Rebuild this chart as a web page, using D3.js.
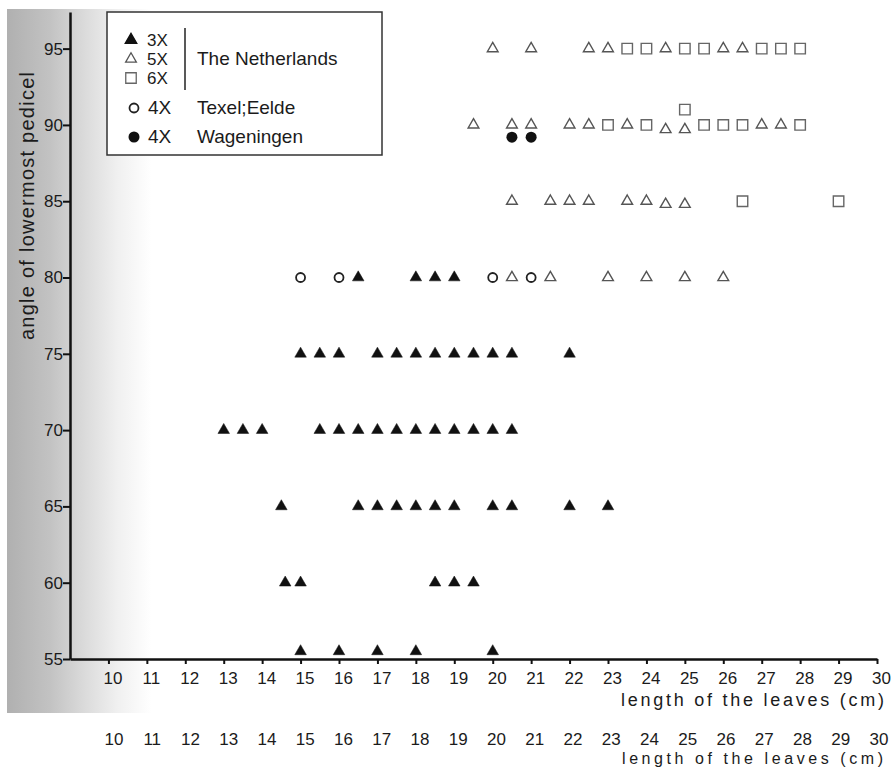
<!DOCTYPE html>
<html>
<head>
<meta charset="utf-8">
<script src="https://cdn.jsdelivr.net/npm/d3@7"></script>
<style>
  body { margin: 0; background: #fff; }
  text { font-family: "Liberation Sans", Arial, sans-serif; fill: #1b1b1b; }
</style>
</head>
<body>
<div id="chart"></div>
<script>
// Data: [length of leaves (cm), angle of lowermost pedicel]
var tri3x = [
  [16.5, 80], [18, 80], [18.5, 80], [19, 80],
  [15, 75], [15.5, 75], [16, 75], [17, 75], [17.5, 75], [18, 75], [18.5, 75], [19, 75], [19.5, 75], [20, 75], [20.5, 75], [22, 75],
  [13, 70], [13.5, 70], [14, 70], [15.5, 70], [16, 70], [16.5, 70], [17, 70], [17.5, 70], [18, 70], [18.5, 70], [19, 70], [19.5, 70], [20, 70], [20.5, 70],
  [14.5, 65], [16.5, 65], [17, 65], [17.5, 65], [18, 65], [18.5, 65], [19, 65], [20, 65], [20.5, 65], [22, 65], [23, 65],
  [14.6, 60], [15, 60], [18.5, 60], [19, 60], [19.5, 60],
  [15, 55.5], [16, 55.5], [17, 55.5], [18, 55.5], [20, 55.5]
];
var tri5x = [
  [20, 95], [21, 95], [22.5, 95], [23, 95], [24.5, 95], [26, 95], [26.5, 95],
  [19.5, 90], [20.5, 90], [21, 90], [22, 90], [22.5, 90], [23.5, 90], [24.5, 89.7], [25, 89.7], [27, 90], [27.5, 90],
  [20.5, 85], [21.5, 85], [22, 85], [22.5, 85], [23.5, 85], [24, 85], [24.5, 84.8], [25, 84.8],
  [20.5, 80], [21.5, 80], [23, 80], [24, 80], [25, 80], [26, 80]
];
var sq6x = [
  [23.5, 95], [24, 95], [25, 95], [25.5, 95], [27, 95], [27.5, 95], [28, 95],
  [23, 90], [24, 90], [25, 91], [25.5, 90], [26, 90], [26.5, 90], [28, 90],
  [26.5, 85], [29, 85]
];
var circ4xTexel = [[15, 80], [16, 80], [20, 80], [21, 80]];
var dot4xWag = [[20.5, 89.2], [21, 89.2]];

var xTicks = d3.range(10, 31);
var yTicks = [55, 60, 65, 70, 75, 80, 85, 90, 95];

var width = 891, height = 767;

var svg = d3.select("#chart").append("svg")
  .attr("width", width)
  .attr("height", height);

// scanned page shading on the left
var grad = svg.append("defs").append("linearGradient")
  .attr("id", "shade")
  .attr("x1", "0").attr("x2", "1").attr("y1", "0").attr("y2", "0");
grad.append("stop").attr("offset", "0").attr("stop-color", "#b0b0b0");
grad.append("stop").attr("offset", "0.25").attr("stop-color", "#c2c2c2");
grad.append("stop").attr("offset", "0.45").attr("stop-color", "#dadada");
grad.append("stop").attr("offset", "0.65").attr("stop-color", "#f0f0f0");
grad.append("stop").attr("offset", "0.85").attr("stop-color", "#ffffff");
grad.append("stop").attr("offset", "1").attr("stop-color", "#ffffff");
svg.append("rect")
  .attr("x", 7).attr("y", 9)
  .attr("width", 170).attr("height", 704)
  .attr("fill", "url(#shade)");

var x = d3.scaleLinear().domain([9, 30]).range([70, 877]);
var y = d3.scaleLinear().domain([55, 97.4]).range([659, 12]);

// axes
var xAxis = svg.append("g")
  .attr("transform", "translate(0," + y(55) + ")")
  .call(d3.axisBottom(x).tickValues(xTicks).tickSize(5).tickPadding(8).tickSizeOuter(0));
xAxis.selectAll("text").style("font-size", "17px").attr("dx", "4");

var yAxis = svg.append("g")
  .attr("transform", "translate(" + x(9) + ",0)")
  .call(d3.axisLeft(y).tickValues(yTicks).tickSize(7).tickPadding(0).tickSizeOuter(0));
yAxis.selectAll("text").style("font-size", "17px");

svg.selectAll(".domain").attr("stroke", "#111").attr("stroke-width", 2.5);
svg.selectAll(".tick line").attr("stroke", "#111").attr("stroke-width", 2);

svg.append("text")
  .attr("x", 621).attr("y", 706)
  .attr("textLength", 263).attr("lengthAdjust", "spacing")
  .style("font-size", "18px")
  .text("length of the leaves (cm)");

svg.append("text")
  .attr("transform", "translate(34,340) rotate(-90)")
  .attr("textLength", 268).attr("lengthAdjust", "spacing")
  .style("font-size", "20px")
  .attr("fill", "#2a2a2a")
  .text("angle of lowermost pedicel");

// duplicate tick row under the scan
var x2 = d3.scaleLinear().domain([10, 30]).range([114, 879]);
svg.append("g").selectAll("text")
  .data(xTicks)
  .enter().append("text")
  .attr("x", d => x2(d))
  .attr("y", 745)
  .attr("text-anchor", "middle")
  .style("font-size", "17px")
  .text(d => d);
svg.append("text")
  .attr("x", 622).attr("y", 764)
  .attr("textLength", 261).attr("lengthAdjust", "spacing")
  .style("font-size", "16px")
  .text("length of the leaves (cm)");

// markers
var triFilled = d3.symbol().type(d3.symbolTriangle).size(58);
var triOpen = d3.symbol().type(d3.symbolTriangle).size(50);
var square = d3.symbol().type(d3.symbolSquare).size(110);

function plot(data, path, fill, stroke, sw, cls) {
  svg.append("g").attr("class", cls)
    .selectAll("path")
    .data(data)
    .enter().append("path")
    .attr("d", path)
    .attr("transform", d => "translate(" + x(d[0]) + "," + y(d[1]) + ")")
    .attr("fill", fill)
    .attr("stroke", stroke)
    .attr("stroke-width", sw);
}

plot(tri3x, triFilled, "#111", "#111", 0.5, "tri3x");
plot(tri5x, triOpen, "none", "#555", 1.4, "tri5x");
plot(sq6x, square, "none", "#666", 1.4, "sq6x");

svg.append("g").selectAll("circle")
  .data(circ4xTexel)
  .enter().append("circle")
  .attr("cx", d => x(d[0])).attr("cy", d => y(d[1]))
  .attr("r", 4.5)
  .attr("fill", "none").attr("stroke", "#222").attr("stroke-width", 1.8);

svg.append("g").selectAll("circle")
  .data(dot4xWag)
  .enter().append("circle")
  .attr("cx", d => x(d[0])).attr("cy", d => y(d[1]))
  .attr("r", 5.5)
  .attr("fill", "#111");

// legend
var lg = svg.append("g").attr("class", "legend");
lg.append("rect")
  .attr("x", 107).attr("y", 12).attr("width", 275).attr("height", 143)
  .attr("fill", "#fff").attr("stroke", "#333").attr("stroke-width", 1.5);

var legendRows = [
  { sym: triFilled, fill: "#111", stroke: "#111", label: "3X", cy: 40 },
  { sym: triOpen, fill: "none", stroke: "#555", label: "5X", cy: 59 },
  { sym: square, fill: "none", stroke: "#666", label: "6X", cy: 78 }
];
legendRows.forEach(function(r) {
  lg.append("path")
    .attr("d", r.sym)
    .attr("transform", "translate(131," + r.cy + ")")
    .attr("fill", r.fill).attr("stroke", r.stroke).attr("stroke-width", 1.3);
  lg.append("text")
    .attr("x", 147).attr("y", r.cy + 6)
    .style("font-size", "17px")
    .text(r.label);
});
lg.append("line")
  .attr("x1", 185).attr("x2", 185).attr("y1", 28).attr("y2", 90)
  .attr("stroke", "#222").attr("stroke-width", 1.5);
lg.append("text")
  .attr("x", 197).attr("y", 65)
  .style("font-size", "19px")
  .text("The Netherlands");

lg.append("circle")
  .attr("cx", 134).attr("cy", 108).attr("r", 4.5)
  .attr("fill", "none").attr("stroke", "#222").attr("stroke-width", 1.8);
lg.append("text").attr("x", 148).attr("y", 114).style("font-size", "19px").text("4X");
lg.append("text").attr("x", 197).attr("y", 114).style("font-size", "19px").text("Texel;Eelde");

lg.append("circle")
  .attr("cx", 134).attr("cy", 137).attr("r", 5.5)
  .attr("fill", "#111");
lg.append("text").attr("x", 148).attr("y", 143).style("font-size", "19px").text("4X");
lg.append("text").attr("x", 197).attr("y", 143).style("font-size", "19px").text("Wageningen");
</script>
</body>
</html>
